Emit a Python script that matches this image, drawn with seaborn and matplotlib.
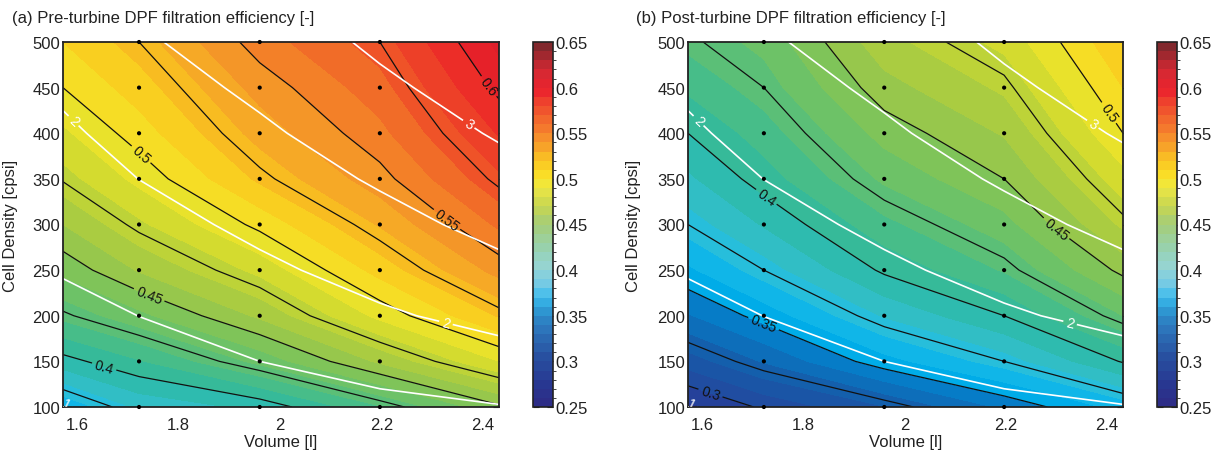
import numpy as np
import matplotlib
matplotlib.use("Agg")
import matplotlib.pyplot as plt
import seaborn as sns
import pandas as pd
from matplotlib.colors import LinearSegmentedColormap, BoundaryNorm
from matplotlib.cm import ScalarMappable

# ---------------- data ----------------
volume = [1.572, 1.722, 1.96, 2.197, 2.432]            # l
cell_density = [100, 150, 200, 250, 300, 350, 400, 450, 500]  # cpsi

# rows: cell density, columns: volume
eff_pre = [
    [0.362, 0.382, 0.393, 0.419, 0.448],
    [0.396, 0.409, 0.433, 0.462, 0.490],
    [0.423, 0.437, 0.462, 0.493, 0.521],
    [0.443, 0.461, 0.483, 0.514, 0.544],
    [0.460, 0.478, 0.503, 0.531, 0.562],
    [0.476, 0.493, 0.522, 0.546, 0.578],
    [0.488, 0.505, 0.534, 0.557, 0.591],
    [0.500, 0.515, 0.544, 0.566, 0.603],
    [0.510, 0.525, 0.555, 0.575, 0.613],
]
eff_post = [
    [0.287, 0.302, 0.3195, 0.342, 0.364],
    [0.315, 0.331, 0.356, 0.375, 0.401],
    [0.339, 0.354, 0.381, 0.400, 0.430],
    [0.358, 0.375, 0.402, 0.421, 0.453],
    [0.375, 0.391, 0.417, 0.436, 0.472],
    [0.388, 0.405, 0.432, 0.450, 0.486],
    [0.400, 0.415, 0.444, 0.461, 0.500],
    [0.412, 0.425, 0.456, 0.472, 0.510],
    [0.423, 0.433, 0.4665, 0.483, 0.519],
]
# white iso-lines (second quantity, shared by both panels)
white_field = [
    [0.98, 1.146, 1.273, 1.39, 1.48],
    [1.18, 1.325, 1.50, 1.665, 1.829],
    [1.36, 1.503, 1.709, 1.94, 2.134],
    [1.532, 1.67, 1.918, 2.156, 2.396],
    [1.666, 1.837, 2.10, 2.357, 2.627],
    [1.80, 2.003, 2.265, 2.552, 2.839],
    [1.934, 2.147, 2.431, 2.733, 3.043],
    [2.067, 2.294, 2.585, 2.913, 3.22],
    [2.198, 2.44, 2.732, 3.08, 3.40],
]
design_volume = [1.722, 1.96, 2.197]
design_cpsi = [100, 150, 200, 250, 300, 350, 400, 450, 500]

titles = ["(a) Pre-turbine DPF filtration efficiency [-]",
          "(b) Post-turbine DPF filtration efficiency [-]"]
x_ticks = [1.6, 1.8, 2.0, 2.2, 2.4]
x_ticklabels = ["1.6", "1.8", "2", "2.2", "2.4"]
y_ticks = [100, 150, 200, 250, 300, 350, 400, 450, 500]
cbar_ticks = [0.25, 0.3, 0.35, 0.4, 0.45, 0.5, 0.55, 0.6, 0.65]
black_levels = [0.275, 0.3, 0.325, 0.35, 0.375, 0.4, 0.425, 0.45, 0.475,
                0.5, 0.525, 0.55, 0.575, 0.6, 0.625]
white_labelled = [1.0, 2.0, 3.0]
white_unlabelled = [1.5, 2.5]

# ---------------- style ----------------
sns.set_style("white")
plt.rcParams['font.family'] = ['Liberation Sans', 'DejaVu Sans']
plt.rcParams['font.size'] = 12

def make_cmap(name, anchors):
    return LinearSegmentedColormap.from_list(
        name, [((v - 0.25) / 0.4, tuple(c / 255 for c in rgb)) for v, rgb in anchors])

# colours of the filled field
field_anchors = [
    (0.25, (40, 40, 130)), (0.28, (42, 50, 145)), (0.30, (35, 72, 158)),
    (0.325, (20, 95, 172)), (0.345, (5, 125, 200)), (0.355, (0, 172, 232)),
    (0.37, (25, 188, 232)), (0.38, (50, 192, 208)), (0.40, (45, 185, 162)),
    (0.42, (80, 190, 128)), (0.44, (118, 195, 95)), (0.46, (160, 200, 70)),
    (0.48, (200, 215, 50)), (0.50, (245, 230, 40)), (0.52, (250, 200, 30)),
    (0.54, (245, 160, 40)), (0.56, (242, 120, 40)), (0.58, (238, 75, 40)),
    (0.60, (235, 35, 40)), (0.62, (220, 30, 42)), (0.65, (130, 35, 40)),
]
# colours drawn in the colour bars (lighter in the cyan/green part)
bar_anchors = [
    (0.25, (45, 45, 135)), (0.27, (40, 55, 145)), (0.30, (40, 80, 160)),
    (0.33, (45, 115, 185)), (0.35, (45, 145, 205)), (0.36, (50, 170, 225)),
    (0.37, (70, 190, 235)), (0.38, (110, 200, 230)), (0.40, (150, 212, 215)),
    (0.42, (150, 210, 180)), (0.45, (165, 205, 120)), (0.47, (200, 215, 80)),
    (0.49, (235, 230, 70)), (0.50, (250, 230, 40)), (0.52, (250, 200, 35)),
    (0.55, (245, 135, 45)), (0.58, (240, 80, 45)), (0.60, (235, 35, 45)),
    (0.62, (215, 40, 50)), (0.65, (130, 40, 45)),
]
cmap = make_cmap("eff", field_anchors)
bar_cmap = make_cmap("effbar", bar_anchors)
fill_levels = np.linspace(0.25, 0.65, 41)

W, H = 1221, 452
def rect(l, t, r, b):
    return [l / W, 1 - b / H, (r - l) / W, (b - t) / H]

fig = plt.figure(figsize=(W / 100, H / 100), dpi=100)
axes = [fig.add_axes(rect(63, 43, 499, 408)), fig.add_axes(rect(688, 43, 1123, 408))]
caxes = [fig.add_axes(rect(533, 43, 553, 408)), fig.add_axes(rect(1157, 43, 1177, 408))]

black_label_pos = [
    {0.4: (1.652, 142), 0.45: (1.737, 216), 0.5: (1.723, 375), 0.55: (2.316, 296), 0.6: (2.403, 448)},
    {0.3: (1.611, 106), 0.35: (1.714, 181), 0.4: (1.724, 328), 0.45: (2.298, 294), 0.5: (2.39, 417)},
]
white_label_pos = [(1.576, 102), (1.59, 412), (2.326, 189), (2.37, 408)]

V, C = np.meshgrid(volume, cell_density)
fields = [np.array(eff_pre), np.array(eff_post)]
WF = np.array(white_field)
pts = pd.DataFrame([(v, c) for v in design_volume for c in design_cpsi], columns=["V", "cpsi"])
fmt = lambda v: f"{v:g}"

for i, ax in enumerate(axes):
    Z = fields[i]
    ax.contourf(V, C, Z, levels=fill_levels, cmap=cmap, vmin=0.25, vmax=0.65)
    pos = black_label_pos[i]
    lab = sorted(pos.keys())
    unl = [l for l in black_levels if all(abs(l - m) > 1e-9 for m in lab)]
    ax.contour(V, C, Z, levels=unl, colors="#111111", linewidths=0.9)
    cs = ax.contour(V, C, Z, levels=lab, colors="#111111", linewidths=0.9)
    ax.clabel(cs, manual=[pos[k] for k in lab], inline=True, fmt=fmt,
              fontsize=10, inline_spacing=3)
    ax.contour(V, C, WF, levels=white_unlabelled, colors="w", linewidths=1.2)
    ws = ax.contour(V, C, WF, levels=white_labelled, colors="w", linewidths=1.2)
    ax.clabel(ws, manual=white_label_pos, inline=True, fmt=fmt,
              fontsize=10, inline_spacing=3)
    sns.scatterplot(data=pts, x="V", y="cpsi", ax=ax, color="k", s=9,
                    edgecolor="none", legend=False, zorder=5, clip_on=False)
    ax.set_xlim(volume[0], volume[-1])
    ax.set_ylim(100, 500)
    ax.set_xticks(x_ticks)
    ax.set_xticklabels(x_ticklabels)
    ax.set_yticks(y_ticks)
    ax.tick_params(direction="in", top=True, right=True, length=4, width=0.8,
                   labelsize=12, colors="#222222")
    ax.tick_params(axis="x", pad=7)
    ax.tick_params(axis="y", pad=2)
    for s in ax.spines.values():
        s.set_linewidth(1.3)
        s.set_color("#222222")
    ax.set_xlabel("Volume [l]", fontsize=12, labelpad=2, color="#222222")
    ax.set_ylabel("Cell Density [cpsi]", fontsize=12, color="#222222")
    ax.yaxis.set_label_coords(-0.103 if i == 0 else -0.108, 0.5)

    sm = ScalarMappable(norm=BoundaryNorm(fill_levels, 256), cmap=bar_cmap)
    cb = fig.colorbar(sm, cax=caxes[i], ticks=cbar_ticks, boundaries=fill_levels)
    cb.ax.set_yticklabels([f"{t:g}" for t in cbar_ticks])
    cb.ax.tick_params(direction="in", left=True, right=True, length=4, width=0.8,
                      labelsize=12, colors="#222222", pad=2)
    cb.outline.set_linewidth(1.2)
    cb.outline.set_edgecolor("#222222")

fig.text(12.5 / W, 1 - 23 / H, titles[0], fontsize=12, va="baseline", ha="left", color="#222222")
fig.text(636 / W, 1 - 23 / H, titles[1], fontsize=12, va="baseline", ha="left", color="#222222")

fig.savefig("out.png", dpi=100)
